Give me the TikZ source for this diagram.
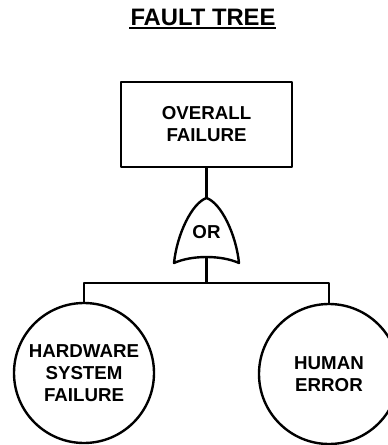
\documentclass[tikz,border=0pt]{standalone}
\usepackage{fontspec}
\setmainfont{Liberation Sans}
\begin{document}
\begin{tikzpicture}[x=1pt,y=-1pt,
  line width=2.4pt, line join=round,
  lbl/.style={font=\bfseries\fontsize{18.7}{22}\selectfont, align=center, inner sep=0pt},
  event/.style={lbl, draw, rectangle, minimum width=171pt, minimum height=85pt},
  basic/.style={lbl, draw, circle, minimum size=140pt},
  gatelbl/.style={font=\bfseries\fontsize{18.7}{22}\selectfont, inner sep=0pt}]
  \useasboundingbox (0,0) rectangle (388,445);
  \clip (0,0) rectangle (388,445);

  % heading with underline
  \node[font=\bfseries\fontsize{23.8}{26}\selectfont, inner sep=0pt] (title) at (203,17.5) {FAULT TREE};
  \coordinate (ul1) at (129,27.8);
  \coordinate (ul2) at (276,27.8);
  \draw (ul1) -- (ul2);

  % top event
  \node[event] (top) at (206.5,124.5) {OVERALL\\FAILURE};

  % OR gate
  \coordinate (gtop) at (206.5,198);
  \coordinate (gbl) at (174,263);
  \coordinate (gbr) at (239,263);
  \coordinate (gbot) at (206.5,257.5);
  \draw (gtop) .. controls (192,203) and (177,234) .. (gbl)
        .. controls (192,255) and (221,255) .. (gbr)
        .. controls (236,234) and (221,203) .. (gtop) -- cycle;
  \node[gatelbl] (gate) at (206.5,232) {OR};

  % basic events
  \node[basic] (hw) at (84,373) {HARDWARE\\SYSTEM\\FAILURE};
  \node[basic] (he) at (329,374) {HUMAN\\ERROR};

  % connectors
  \coordinate (split) at (206.5,283);
  \draw (top.south) -- (gtop);
  \draw (gbot) -- (split);
  \draw (hw.north) -- (hw.north |- split) -- (he.north |- split) -- (he.north);
\end{tikzpicture}
\end{document}
